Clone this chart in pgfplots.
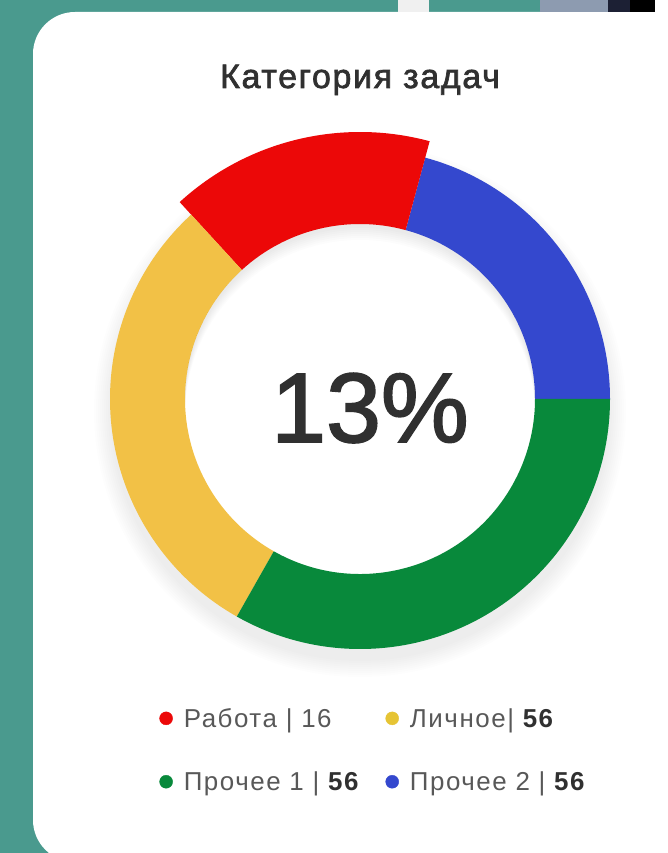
\documentclass[border=0pt]{standalone}
\usepackage{pgfplots}
\pgfplotsset{compat=1.18}
\usepackage{pgfplotstable}
\usepackage{fontspec}
\setmainfont{Liberation Sans}
\newfontfamily\titlefont[FakeBold=2.0,LetterSpace=5]{Liberation Sans}
\newfontfamily\bigfont[FakeBold=1.8]{Liberation Sans}
\newfontfamily\legfont[LetterSpace=6]{Liberation Sans}
\definecolor{bgteal}{RGB}{74,154,142}
\definecolor{cred}{RGB}{236,8,8}
\definecolor{cyel}{RGB}{242,193,70}
\definecolor{cyeldot}{RGB}{230,196,52}
\definecolor{cblu}{RGB}{52,72,206}
\definecolor{cgrn}{RGB}{8,137,59}
\definecolor{txtgray}{RGB}{88,88,88}
\definecolor{txtdark}{RGB}{48,48,48}
\definecolor{stripgray}{RGB}{141,155,176}
\definecolor{stripnavy}{RGB}{28,32,52}

% share of each slice (percent), outer radius (px), colour; drawn counter-clockwise from 0 deg
\pgfplotstableread{
name value rout col
Blue 20.8 250 cblu
Red 16.0 267 cred
Yellow 30.0 250 cyel
Green 33.2 250 cgrn
}\donut

\def\cx{360}\def\cy{454}\def\ri{175}

\begin{document}
\begin{tikzpicture}
\begin{axis}[
  x=1bp, y=1bp, xmin=0, xmax=668, ymin=0, ymax=853,
  hide axis, scale only axis, clip=true,
  legend columns=2,
  legend style={draw=none, fill=none, at={(axis cs:372,103)}, anchor=center,
    font=\legfont\fontsize{26}{29}\selectfont, text=txtgray,
    /tikz/every odd column/.style={column sep=11bp},
    /tikz/every even column/.style={column sep=27bp},
    row sep=43bp,
    nodes={inner sep=0bp, anchor=west}},
]
% background and card
\fill[bgteal] (axis cs:0,0) rectangle (axis cs:668,853);
\fill[white, rounded corners=42bp] (axis cs:33,-9) rectangle (axis cs:720,841);
\fill[white!94!black] (axis cs:398,841) rectangle (axis cs:429,853);
\fill[white] (axis cs:655,841) rectangle (axis cs:668,853);
\fill[stripgray] (axis cs:540,841) rectangle (axis cs:608,853);
\fill[stripnavy] (axis cs:608,841) rectangle (axis cs:630,853);
\fill[black] (axis cs:630,841) rectangle (axis cs:655,853);

% soft shadow under the ring (annuli only, hole stays white)
\pgfplotsinvokeforeach{0,2,...,16}{
  \fill[black, opacity=0.007, even odd rule] (axis cs:\cx,\cy-12) circle[radius={(250+#1)*1bp}] (axis cs:\cx,\cy) circle[radius=205bp];
}

% donut slices from the table
\def\acc{0}
\pgfplotsforeachungrouped \i in {0,...,3}{%
  \pgfplotstablegetelem{\i}{value}\of\donut \let\v\pgfplotsretval
  \pgfplotstablegetelem{\i}{rout}\of\donut \let\ro\pgfplotsretval
  \pgfplotstablegetelem{\i}{col}\of\donut \let\sc\pgfplotsretval
  \pgfmathsetmacro\aS{\acc}%
  \pgfmathsetmacro\aE{\acc+3.6*\v}%
  \pgfmathsetmacro\dr{\ro-\ri}%
  \edef\tmp{\noexpand\fill[\sc] (axis cs:\cx,\cy) ++(\aS:\ri bp)
     arc[start angle=\aS, end angle=\aE, radius=\ri bp] -- ++(\aE:\dr bp)
     arc[start angle=\aE, end angle=\aS, radius=\ro bp] -- cycle;}%
  \tmp
  \global\let\acc\aE
}
% faint inner shading at the top of the hole
\pgfplotsinvokeforeach{0,2,...,12}{
  \begin{scope}
    \clip (axis cs:\cx,\cy) circle[radius=175bp];
    \fill[black, opacity=0.01, even odd rule] (axis cs:\cx,\cy) circle[radius=200bp] (axis cs:\cx,\cy-4-#1) circle[radius=175bp];
  \end{scope}
}

\node[anchor=base, text=txtdark, font=\titlefont\fontsize{34}{38}\selectfont] at (axis cs:360,765) {Категория задач};
\node[anchor=base, text=txtdark, font=\bigfont\fontsize{99}{100}\selectfont] at (axis cs:370,411) {13\%};

\addlegendimage{legend image code/.code={\fill[cred] (0bp,0bp) circle[radius=6.5bp];}}
\addlegendentry{Работа | 16}
\addlegendimage{legend image code/.code={\fill[cyeldot] (0bp,0bp) circle[radius=6.5bp];}}
\addlegendentry{Личное| \textcolor{txtdark}{\bfseries 56}}
\addlegendimage{legend image code/.code={\fill[cgrn] (0bp,0bp) circle[radius=6.5bp];}}
\addlegendentry{Прочее 1 | \textcolor{txtdark}{\bfseries 56}}
\addlegendimage{legend image code/.code={\fill[cblu] (0bp,0bp) circle[radius=6.5bp];}}
\addlegendentry{Прочее 2 | \textcolor{txtdark}{\bfseries 56}}
\end{axis}
\end{tikzpicture}
\end{document}
